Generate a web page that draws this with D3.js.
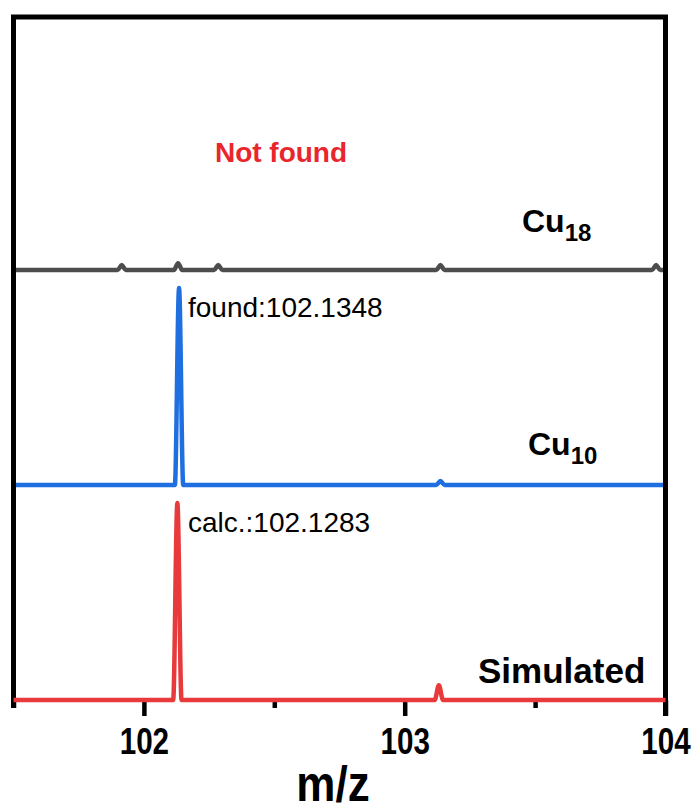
<!DOCTYPE html>
<html>
<head>
<meta charset="utf-8">
<script src="https://cdn.jsdelivr.net/npm/d3@7"></script>
<style>
  html, body { margin: 0; padding: 0; background: #fff; }
  svg { display: block; font-family: "Liberation Sans", Arial, sans-serif; }
</style>
</head>
<body>
<svg id="chart" width="700" height="812"></svg>
<script>
// ---------------- data ----------------
const mzDomain = [101.5, 104];
const majorTicks = [102, 103, 104];
const minorTicks = [101.5, 102.5, 103.5];
const xAxisTitle = "m/z";

const seriesNames = ["Simulated", "Cu10", "Cu18"];
const seriesOffsets = [0, 1, 2];           // stacking level of each trace
const seriesColors = ["#e8393b", "#1f6fe0", "#4d4d4d"];

// peaks: m/z and relative intensity (%)
const simulatedMz = [102.1283, 103.131];
const simulatedInt = [100, 7.5];
const cu10Mz = [102.1348, 103.137];
const cu10Int = [100, 2];
const cu18Mz = [101.915, 102.131, 102.285, 103.137, 103.964];
const cu18Int = [2.5, 3.5, 2.5, 2.5, 2.5];

const annotFound = "found:102.1348";
const annotCalc = "calc.:102.1283";
const annotNotFound = "Not found";

// ---------------- layout ----------------
const W = 700, H = 812;
const plot = { left: 13.5, right: 665.5, top: 17, bottom: 700 };
const peakHalfWidth = 0.016;   // m/z, drawing width of each peak
const peakScale = 0.916;       // 100% intensity in stacking units

const svg = d3.select("#chart");

const x = d3.scaleLinear().domain(mzDomain).range([plot.left, plot.right]);
const y = d3.scaleLinear().domain([0, 3.177]).range([plot.bottom, plot.top]);

const peakSets = [
  { mz: simulatedMz, inten: simulatedInt },
  { mz: cu10Mz, inten: cu10Int },
  { mz: cu18Mz, inten: cu18Int }
];

function tracePoints(set, offset) {
  const pts = [[mzDomain[0], offset]];
  set.mz.forEach((m, i) => {
    pts.push([m - peakHalfWidth, offset]);
    pts.push([m, offset + set.inten[i] / 100 * peakScale]);
    pts.push([m + peakHalfWidth, offset]);
  });
  pts.push([mzDomain[1], offset]);
  return pts;
}

const line = d3.line()
  .x(d => x(d[0]))
  .y(d => y(d[1]))
  .curve(d3.curveMonotoneX);

[2, 1].forEach(k => {
  svg.append("path")
    .attr("d", line(tracePoints(peakSets[k], seriesOffsets[k])))
    .attr("fill", "none")
    .attr("stroke", seriesColors[k])
    .attr("stroke-width", 4.5)
    .attr("stroke-linejoin", "round");
});

// frame (left, top, right)
svg.append("path")
  .attr("d", `M${plot.left},${plot.bottom + 8}V${plot.top}H${plot.right}V${plot.bottom + 16}`)
  .attr("fill", "none")
  .attr("stroke", "#000")
  .attr("stroke-width", 5);

// bottom axis
const axisG = svg.append("g").attr("transform", `translate(0,${plot.bottom})`);
const majorAxis = d3.axisBottom(x).tickValues(majorTicks).tickSize(16).tickPadding(12)
  .tickFormat(d3.format("d"));
axisG.call(majorAxis);
axisG.select(".domain").remove();
axisG.selectAll(".tick line").attr("stroke", "#000").attr("stroke-width", 4.5);
axisG.selectAll(".tick text")
  .attr("fill", "#000")
  .attr("font-size", 37)
  .attr("font-weight", "bold")
  .attr("transform", "scale(0.8,1)")
  .attr("font-family", "'Liberation Sans', Arial, sans-serif");

const minorG = svg.append("g").attr("transform", `translate(0,${plot.bottom})`);
minorG.call(d3.axisBottom(x).tickValues(minorTicks).tickSize(8).tickFormat(""));
minorG.select(".domain").remove();
minorG.selectAll(".tick line").attr("stroke", "#000").attr("stroke-width", 4.5);

// simulated trace drawn over the bottom axis line position
svg.append("path")
  .attr("d", line(tracePoints(peakSets[0], seriesOffsets[0])))
  .attr("fill", "none")
  .attr("stroke", seriesColors[0])
  .attr("stroke-width", 4.5)
  .attr("stroke-linejoin", "round");

// axis title
svg.append("text")
  .attr("transform", "translate(333,801) scale(0.88,1)")
  .attr("text-anchor", "middle")
  .attr("font-size", 50).attr("font-weight", "bold")
  .text(xAxisTitle);

// series labels
function seriesLabel(base, sub, xPos, yPos, size) {
  const t = svg.append("text").attr("x", xPos).attr("y", yPos)
    .attr("font-size", size).attr("font-weight", "bold").attr("fill", "#000");
  t.append("tspan").text(base);
  if (sub) t.append("tspan").attr("dy", 9).attr("font-size", 24).text(sub);
  return t;
}
seriesLabel("Cu", "18", 522, 232, 32);
seriesLabel("Cu", "10", 528, 455, 32);
seriesLabel("Simulated", null, 478, 683, 35);

// annotations
svg.append("text").attr("x", 188).attr("y", 317)
  .attr("font-size", 28).attr("fill", "#000").text(annotFound);
svg.append("text").attr("x", 188).attr("y", 532)
  .attr("font-size", 28).attr("fill", "#000").text(annotCalc);
svg.append("text").attr("x", 281).attr("y", 162)
  .attr("text-anchor", "middle")
  .attr("font-size", 28).attr("font-weight", "bold").attr("fill", "#e8262b")
  .text(annotNotFound);
</script>
</body>
</html>
